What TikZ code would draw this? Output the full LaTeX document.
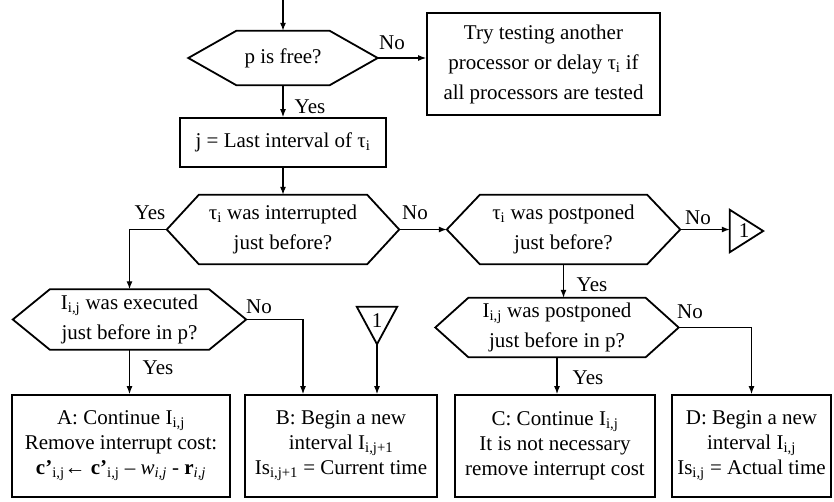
\documentclass[tikz,border=0pt]{standalone}
\usepackage{fontspec}
\setmainfont{Liberation Serif}
\usetikzlibrary{arrows.meta}

\begin{document}
\begin{tikzpicture}
[x=1pt,y=-1pt,font=\fontsize{21}{30}\selectfont,
  shapeDecorate/.style={line width=1.8pt,line join=miter},
  hexDecorate/.style={shape=rectangle,align=center,inner sep=0pt},
  boxDecorate/.style={shape=rectangle,draw,line width=1.8pt,align=center,inner sep=2pt},
  endDecorate/.style={boxDecorate,minimum height=102pt,font=\fontsize{21}{25}\selectfont},
  lineDecorate/.style={-{Latex[length=8pt,width=6pt]},line width=1.2pt}]
\useasboundingbox (0,0) rectangle (834,501);
%% decisions
\node (free) at (283,58) [hexDecorate,minimum width=189pt,minimum height=54pt] {p is free?};
\node (intr) at (283,229.5) [hexDecorate,minimum width=232pt,minimum height=69pt]
  {τ\textsubscript{i} was interrupted\\just before?};
\node (post) at (563.5,229.5) [hexDecorate,minimum width=233pt,minimum height=69pt]
  {τ\textsubscript{i} was postponed\\just before?};
\node (exec) at (129.5,319.5) [hexDecorate,minimum width=233pt,minimum height=60pt]
  {I\textsubscript{i,j} was executed\\just before in p?};
\node (postp) at (557,327.5) [hexDecorate,minimum width=243pt,minimum height=59pt]
  {I\textsubscript{i,j} was postponed\\just before in p?};
\foreach \hexname/\inset in {free/48, intr/32, post/33, exec/37, postp/33} {
  \draw[shapeDecorate] (\hexname.west) -- ([xshift=\inset pt]\hexname.north west)
    -- ([xshift=-\inset pt]\hexname.north east) -- (\hexname.east)
    -- ([xshift=-\inset pt]\hexname.south east) -- ([xshift=\inset pt]\hexname.south west) -- cycle;
}
%% actions
\node (retry) at (543.5,64) [boxDecorate,minimum width=233pt,minimum height=102pt]
  {Try testing another\\processor or delay τ\textsubscript{i} if\\all processors are tested};
\node (last) at (283,142.5) [boxDecorate,minimum width=206pt,minimum height=49pt]
  {j = Last interval of τ\textsubscript{i}};
\node (boxA) at (121,446) [endDecorate,minimum width=218pt]
  {A: Continue I\textsubscript{i,j}\\Remove interrupt cost:\\
   \textbf{c’}\textsubscript{i,j}← \textbf{c’}\textsubscript{i,j} – \textit{w}\textsubscript{\textit{i,j}} - \textbf{r}\textsubscript{\textit{i,j}}};
\node (boxB) at (341,446) [endDecorate,minimum width=192pt]
  {B: Begin a new\\interval I\textsubscript{i,j+1}\\Is\textsubscript{i,j+1} = Current time};
\node (boxC) at (555,446) [endDecorate,minimum width=200pt]
  {C: Continue I\textsubscript{i,j}\\It is not necessary\\remove interrupt cost};
\node (boxD) at (751.5,446) [endDecorate,minimum width=159pt,inner sep=0pt]
  {D: Begin a new\\interval I\textsubscript{i,j}\\Is\textsubscript{i,j} = Actual time};
%% connectors 1
\node (triR) at (746.5,231) [shape=rectangle,minimum width=33pt,minimum height=42pt,inner sep=0pt] {};
\node at (744,231) {1};
\draw[shapeDecorate] (triR.north west) -- (triR.east) -- (triR.south west) -- cycle;
\node (triD) at (377,325.5) [shape=rectangle,minimum width=40pt,minimum height=37pt,inner sep=0pt] {};
\node at (377,321) {1};
\draw[shapeDecorate] (triD.north west) -- (triD.north east) -- (triD.south) -- cycle;
%% labels
\foreach \lblname/\x/\y/\lbltext in {noFree/392/43/No, yesFree/310/107/Yes,
  yesIntr/150/213/Yes, noIntr/415/213/No, noPost/698/218/No, yesPost/592/285/Yes,
  noExec/259/307/No, yesExec/158/368/Yes, noPostp/690/312/No, yesPostp/588/378/Yes} {
  \node (\lblname) at (\x,\y) {\lbltext};
}
%% edges
\coordinate (entry) at (283,0);
\draw[lineDecorate] (entry) -- (free.north);
\draw[lineDecorate] (free.east) -- (free.east -| retry.west);
\draw[lineDecorate] (free.south) -- (last.north);
\draw[lineDecorate] (last.south) -- (intr.north);
\draw[lineDecorate] (intr.west) -| (exec.north);
\draw[lineDecorate] (intr.east) -- (post.west);
\draw[lineDecorate] (post.east) -- (post.east -| triR.west);
\draw[lineDecorate] (post.south) -- (post.south |- postp.north);
\draw[lineDecorate] (exec.south) -- (exec.south |- boxA.north);
\draw[lineDecorate] (exec.east) -| ([xshift=-38pt]boxB.north);
\draw[lineDecorate] (triD.south) -- (triD.south |- boxB.north);
\draw[lineDecorate] (postp.south) -- (postp.south |- boxC.north);
\draw[lineDecorate] (postp.east) -| (boxD.north);
\end{tikzpicture}
\end{document}
